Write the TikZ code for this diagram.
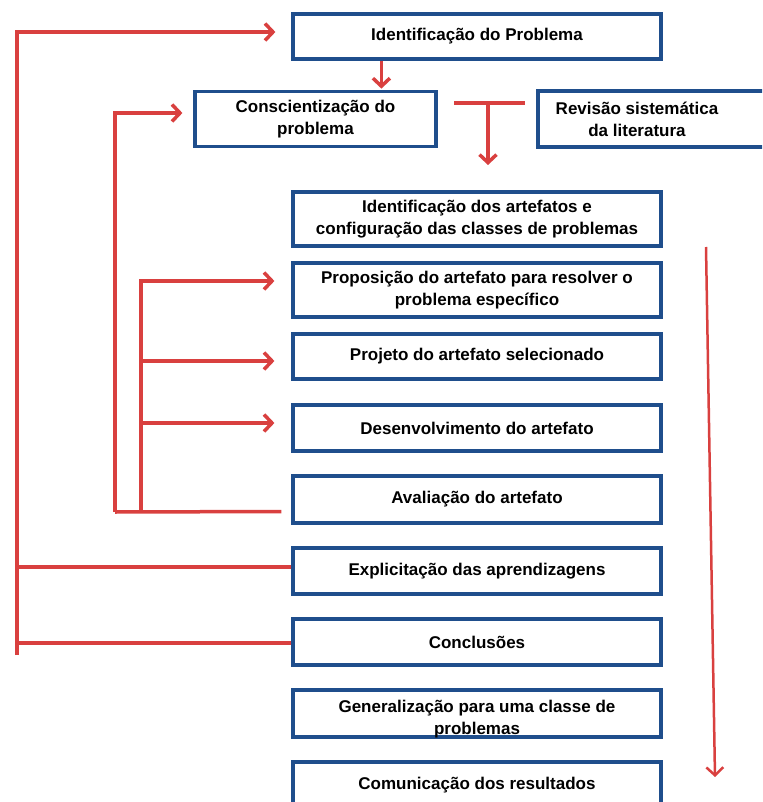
\documentclass[tikz,border=0pt]{standalone}
\usepackage{fontspec}
\setmainfont{Liberation Sans}
\usetikzlibrary{arrows.meta}

\definecolor{boxblue}{HTML}{1F4E8C}
\definecolor{linered}{HTML}{D9403F}

\tikzset{
    box/.style={draw=boxblue, line width=3.2pt, fill=white, minimum width=368pt,
        minimum height=46pt, align=center, inner sep=0pt,
        font=\fontsize{17}{22}\selectfont\bfseries},
    txt/.style={align=center, inner sep=0pt, font=\fontsize{17}{22}\selectfont\bfseries},
    link/.style={draw=linered, line width=3.5pt},
    arr/.style={link, -{Straight Barb[length=8pt,width=17pt]}}
}

\begin{document}
\begin{tikzpicture}[x=1pt, y=-1pt]
    \useasboundingbox (0,0) rectangle (762,802);
    \clip (0,0) rectangle (762,802);

    \path (477,36.5) node [box, minimum height=45pt] (idp) {Identificação do Problema};
    \path (315.5,119) node [box, minimum width=241pt, minimum height=55pt] (cons) {Conscientização do\\problema};
    \path (659,119) node [box, minimum width=242pt, minimum height=56pt] (rev) {};
    \path (637,119) node [txt] (revt) {Revisão sistemática\\da literatura};
    \path (477,219) node [box, minimum height=54pt] (ida) {Identificação dos artefatos e\\configuração das classes de problemas};
    \path (477,290) node [box, minimum height=54pt] (prop) {Proposição do artefato para resolver o\\problema específico};
    \path (477,356.5) node [box, minimum height=45pt] (proj) {Projeto do artefato selecionado};
    \path (477,428) node [box] (des) {Desenvolvimento do artefato};
    \path (477,499.5) node [box, minimum height=47pt] (ava) {Avaliação do artefato};
    \path (477,571) node [box] (exp) {Explicitação das aprendizagens};
    \path (477,642) node [box] (conc) {Conclusões};
    \path (477,713.5) node [box, minimum height=47pt] (gen) {};
    \path (477,719) node [txt] (gent) {Generalização para uma classe de\\problemas};
    \path (477,785.5) node [box, minimum height=47pt] (com) {Comunicação dos resultados};

    \draw [arr] ([xshift=90pt]idp.south west) -- ++(0,28);

    \coordinate (tl) at (454,103);
    \coordinate (tr) at (525,103);
    \coordinate (tm) at (488,103);
    \draw [link] (tl) -- (tr);
    \draw [arr] (tm) -- ++(0,62);

    \coordinate (ob) at (17,655);
    \draw [arr, shorten >=16pt] (ob) |- ([yshift=4.5pt]idp.west);
    \draw [link] ([yshift=4pt]exp.west) -- ([yshift=4pt]exp.west -| ob);
    \draw [link] ([yshift=-1pt]conc.west) -- ([yshift=-1pt]conc.west -| ob);

    \coordinate (ib) at (115,512);
    \draw [arr, shorten >=11pt] (ib) |- ([yshift=6pt]cons.west);
    \draw [link] ([xshift=-10pt,yshift=-12pt]ava.west) -- (ib);

    \coordinate (jb) at (141,512);
    \draw [arr, shorten >=17pt] (jb) |- ([yshift=9pt]prop.west);
    \foreach \n/\dy in {proj/-4.5, des/5}
        \draw [arr, shorten >=17pt] ([yshift=\dy pt]\n.west -| jb) -- ([yshift=\dy pt]\n.west);

    \coordinate (rs) at (706,247);
    \coordinate (re) at (715,777);
    \draw [arr, line width=2.5pt] (rs) -- (re);
\end{tikzpicture}
\end{document}
